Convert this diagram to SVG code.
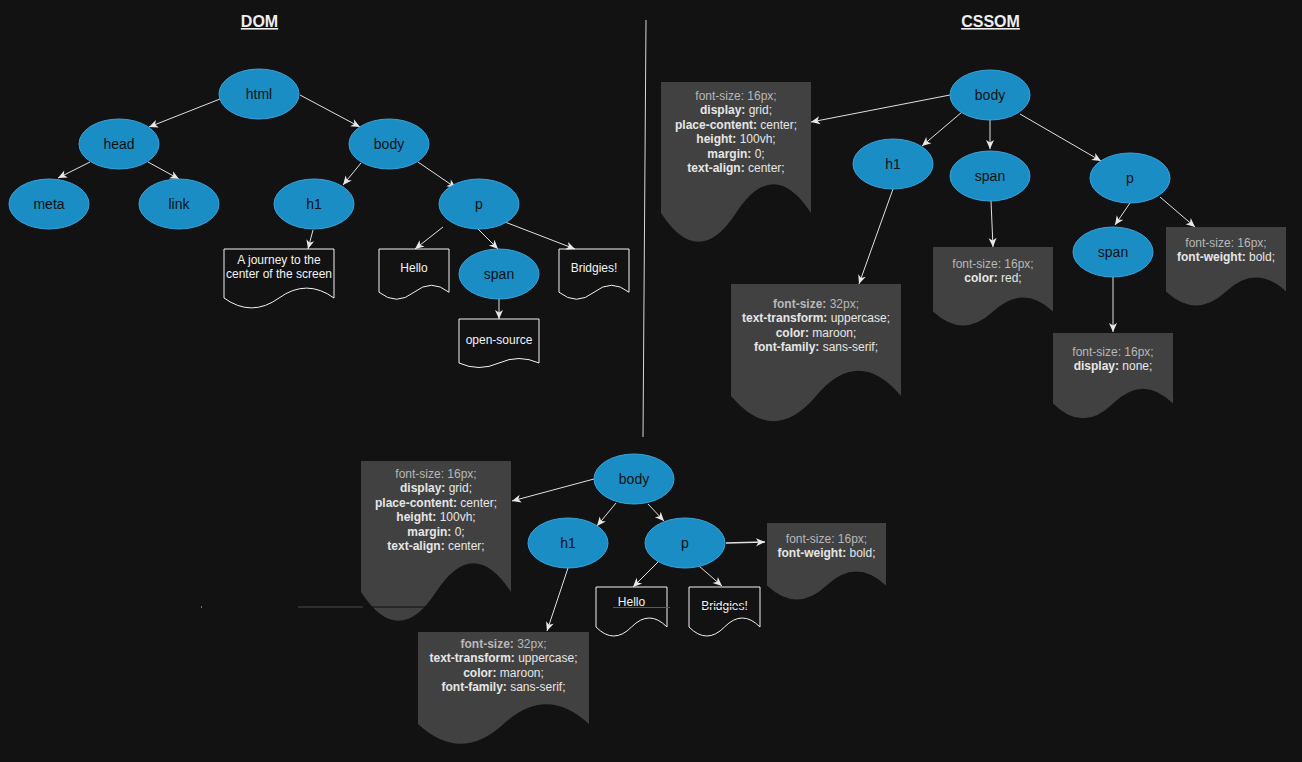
<svg xmlns="http://www.w3.org/2000/svg" width="1302" height="762" viewBox="0 0 1302 762">
<defs>
<style>
.bg{fill:#121212}
.el{fill:#1b8dc5;stroke:#3ba3dc;stroke-width:1}
.et{font-family:"Liberation Sans",Arial,sans-serif;font-size:14px;fill:#111;text-anchor:middle}
.wd{fill:none;stroke:#f2f2f2;stroke-width:1}
.dd{fill:#414141;stroke:none}
.wt{font-family:"Liberation Sans",Arial,sans-serif;font-size:12px;fill:#f2f2f2;text-anchor:middle}
.ct{font-family:"Liberation Sans",Arial,sans-serif;font-size:12px;fill:#e6e6e6;text-anchor:middle}
.dim{fill:#b8b8b8}
.k{font-weight:bold}
.title{font-family:"Liberation Sans",Arial,sans-serif;font-size:16px;font-weight:bold;fill:#eeeeee;text-anchor:middle;text-decoration:underline}
.cn line{stroke:#e0e0e0;stroke-width:1;marker-end:url(#ah)}
</style>
<marker id="ah" markerUnits="userSpaceOnUse" markerWidth="12" markerHeight="10" viewBox="-10 -5 12 10" refX="0" refY="0" orient="auto">
<path d="M-9,-4 L0,0 L-9,4 L-6.5,0 Z" fill="#e8e8e8"/>
</marker>
</defs>
<rect class="bg" x="0" y="0" width="1302" height="762"/>

<text class="title" x="259.5" y="27">DOM</text>
<text class="title" x="990.5" y="27">CSSOM</text>
<line x1="646" y1="20" x2="643" y2="437" stroke="#d8d8d8" stroke-width="1"/>

<g id="connectors" class="cn">
<line x1="220" y1="99" x2="149" y2="127"/>
<line x1="300" y1="95" x2="360" y2="127"/>
<line x1="90" y1="162" x2="58" y2="178"/>
<line x1="148" y1="162" x2="179" y2="179"/>
<line x1="361" y1="163" x2="343" y2="185"/>
<line x1="418" y1="162" x2="456" y2="188"/>
<line x1="313" y1="230" x2="308" y2="249"/>
<line x1="443" y1="227" x2="415" y2="249"/>
<line x1="478" y1="229" x2="498" y2="249"/>
<line x1="505" y1="222" x2="575" y2="249"/>
<line x1="499" y1="299" x2="499" y2="319"/>
<line x1="950" y1="95" x2="811" y2="122"/>
<line x1="962" y1="112" x2="922" y2="146"/>
<line x1="990" y1="120" x2="990" y2="149"/>
<line x1="1020" y1="114" x2="1101" y2="161"/>
<line x1="893" y1="189" x2="859" y2="284"/>
<line x1="991" y1="201" x2="993" y2="247"/>
<line x1="1130" y1="203" x2="1115" y2="225"/>
<line x1="1160" y1="197" x2="1195" y2="227"/>
<line x1="1113" y1="277" x2="1113" y2="332"/>
<line x1="594" y1="479" x2="512" y2="501"/>
<line x1="616" y1="503" x2="597" y2="526"/>
<line x1="648" y1="504" x2="664" y2="521"/>
<line x1="726" y1="543" x2="765" y2="542" style="stroke-width:1.5"/>
<line x1="568" y1="568" x2="547" y2="631"/>
<line x1="658" y1="562" x2="633" y2="587"/>
<line x1="699" y1="566" x2="722" y2="586"/>
</g>

<!-- DOM tree -->
<g id="dom-html"><ellipse class="el" cx="259" cy="94" rx="40" ry="25"/><text class="et" x="259" y="99">html</text></g>
<g id="dom-head"><ellipse class="el" cx="119" cy="144" rx="40" ry="25"/><text class="et" x="119" y="149">head</text></g>
<g id="dom-body"><ellipse class="el" cx="389" cy="144" rx="40" ry="25"/><text class="et" x="389" y="149">body</text></g>
<g id="dom-meta"><ellipse class="el" cx="49" cy="204" rx="40" ry="25"/><text class="et" x="49" y="209">meta</text></g>
<g id="dom-link"><ellipse class="el" cx="179" cy="204" rx="40" ry="25"/><text class="et" x="179" y="209">link</text></g>
<g id="dom-h1"><ellipse class="el" cx="314" cy="204" rx="40" ry="25"/><text class="et" x="314" y="209">h1</text></g>
<g id="dom-p"><ellipse class="el" cx="479" cy="204" rx="40" ry="25"/><text class="et" x="479" y="209">p</text></g>
<g id="dom-span"><ellipse class="el" cx="499" cy="274" rx="40" ry="25"/><text class="et" x="499" y="279">span</text></g>

<g id="dom-journey"><path class="wd" d="M224,249 H334 V298 Q306.5,278.2 279,298 Q251.5,317.8 224,298 Z"/>
<text class="wt" x="279" y="264">A journey to the</text><text class="wt" x="279" y="278.4">center of the screen</text></g>
<g id="dom-hello"><path class="wd" d="M379,249 H449 V292.25 Q431.5,278.3 414,292.25 Q396.5,306.2 379,292.25 Z"/>
<text class="wt" x="414" y="272">Hello</text></g>
<g id="dom-bridgies"><path class="wd" d="M559,249 H629 V292.25 Q611.5,278.3 594,292.25 Q576.5,306.2 559,292.25 Z"/>
<text class="wt" x="594" y="272">Bridgies!</text></g>
<g id="dom-opensource"><path class="wd" d="M459,319 H539 V363 Q519,354 499,363 Q479,372 459,363 Z"/>
<text class="wt" x="499" y="344">open-source</text></g>

<!-- CSSOM tree -->
<g id="css-body"><ellipse class="el" cx="990" cy="95" rx="40" ry="25"/><text class="et" x="990" y="100">body</text></g>
<g id="css-h1"><ellipse class="el" cx="893" cy="164" rx="40" ry="25"/><text class="et" x="893" y="169">h1</text></g>
<g id="css-span"><ellipse class="el" cx="990" cy="176" rx="40" ry="25"/><text class="et" x="990" y="181">span</text></g>
<g id="css-p"><ellipse class="el" cx="1130" cy="178" rx="40" ry="25"/><text class="et" x="1130" y="183">p</text></g>
<g id="css-span2"><ellipse class="el" cx="1113" cy="252" rx="40" ry="25"/><text class="et" x="1113" y="257">span</text></g>

<g id="css-body-rules"><path class="dd" d="M661,82 H811 V213 Q773.5,155.4 736,213 Q698.5,270.6 661,213 Z"/>
<text class="ct dim" x="736" y="100">font-size: 16px;</text>
<text class="ct" x="736" y="114.4"><tspan class="k">display:</tspan> grid;</text>
<text class="ct" x="736" y="128.8"><tspan class="k">place-content:</tspan> center;</text>
<text class="ct" x="736" y="143.2"><tspan class="k">height:</tspan> 100vh;</text>
<text class="ct" x="736" y="157.6"><tspan class="k">margin:</tspan> 0;</text>
<text class="ct" x="736" y="172"><tspan class="k">text-align:</tspan> center;</text></g>
<g id="css-h1-rules"><path class="dd" d="M731,284 H901 V396 Q858.5,345.6 816,396 Q773.5,446.4 731,396 Z"/>
<text class="ct dim" x="816" y="308"><tspan class="k">font-size:</tspan> 32px;</text>
<text class="ct" x="816" y="322.4"><tspan class="k">text-transform:</tspan> uppercase;</text>
<text class="ct" x="816" y="336.8"><tspan class="k">color:</tspan> maroon;</text>
<text class="ct" x="816" y="351.2"><tspan class="k">font-family:</tspan> sans-serif;</text></g>
<g id="css-span-rules"><path class="dd" d="M933,247 H1053 V311.5 Q1023,283.6 993,311.5 Q963,339.4 933,311.5 Z"/>
<text class="ct dim" x="993" y="268">font-size: 16px;</text>
<text class="ct" x="993" y="282.4"><tspan class="k">color:</tspan> red;</text></g>
<g id="css-p-rules"><path class="dd" d="M1166,227 H1286 V291.5 Q1256,263.6 1226,291.5 Q1196,319.4 1166,291.5 Z"/>
<text class="ct dim" x="1226" y="247">font-size: 16px;</text>
<text class="ct" x="1226" y="261.4"><tspan class="k">font-weight:</tspan> bold;</text></g>
<g id="css-span2-rules"><path class="dd" d="M1053,333 H1173 V403.5 Q1143,373.8 1113,403.5 Q1083,433.2 1053,403.5 Z"/>
<text class="ct dim" x="1113" y="356">font-size: 16px;</text>
<text class="ct" x="1113" y="370.4"><tspan class="k">display:</tspan> none;</text></g>

<!-- Render tree -->
<g id="rt-body"><ellipse class="el" cx="634" cy="479" rx="40" ry="25"/><text class="et" x="634" y="484">body</text></g>
<g id="rt-h1"><ellipse class="el" cx="568" cy="543" rx="40" ry="25"/><text class="et" x="568" y="548">h1</text></g>
<g id="rt-p"><ellipse class="el" cx="685" cy="543" rx="40" ry="25"/><text class="et" x="685" y="548">p</text></g>

<g id="rt-body-rules"><path class="dd" d="M361,461 H511 V592 Q473.5,534.4 436,592 Q398.5,649.6 361,592 Z"/>
<text class="ct dim" x="436" y="478">font-size: 16px;</text>
<text class="ct" x="436" y="492.4"><tspan class="k">display:</tspan> grid;</text>
<text class="ct" x="436" y="506.8"><tspan class="k">place-content:</tspan> center;</text>
<text class="ct" x="436" y="521.2"><tspan class="k">height:</tspan> 100vh;</text>
<text class="ct" x="436" y="535.6"><tspan class="k">margin:</tspan> 0;</text>
<text class="ct" x="436" y="550"><tspan class="k">text-align:</tspan> center;</text></g>
<g id="rt-h1-rules"><path class="dd" d="M418,632 H589 V724 Q546.25,684.4 503.5,724 Q460.75,763.6 418,724 Z"/>
<text class="ct dim" x="503.5" y="648"><tspan class="k">font-size:</tspan> 32px;</text>
<text class="ct" x="503.5" y="662.4"><tspan class="k">text-transform:</tspan> uppercase;</text>
<text class="ct" x="503.5" y="676.8"><tspan class="k">color:</tspan> maroon;</text>
<text class="ct" x="503.5" y="691.2"><tspan class="k">font-family:</tspan> sans-serif;</text></g>
<g id="rt-p-rules"><path class="dd" d="M767,523 H886 V585.5 Q856.25,557.6 826.5,585.5 Q796.75,613.4 767,585.5 Z"/>
<text class="ct dim" x="826.5" y="543">font-size: 16px;</text>
<text class="ct" x="826.5" y="557.4"><tspan class="k">font-weight:</tspan> bold;</text></g>
<g id="rt-hello"><path class="wd" d="M596,587 H667 V627 Q649.25,609 631.5,627 Q613.75,645 596,627 Z"/>
<text class="wt" x="631.5" y="606">Hello</text></g>
<g id="rt-bridgies"><path class="wd" d="M689,587 H760 V627 Q742.25,609 724.5,627 Q706.75,645 689,627 Z"/>
<text class="wt" x="724.5" y="610">Bridgies!</text></g>

<g id="stray-lines">
<rect x="201" y="606.5" width="1" height="1" fill="#dddddd"/>
<line x1="298" y1="607" x2="363" y2="607" stroke="#4a4a4a" stroke-width="1"/>
<line x1="363" y1="607" x2="425" y2="607" stroke="#111111" stroke-width="1"/>
<line x1="613" y1="607.5" x2="670" y2="607.5" stroke="#5a5a5a" stroke-width="1"/>
<line x1="690" y1="606.5" x2="759" y2="606.5" stroke="#121212" stroke-width="1"/>
</g>
</svg>
